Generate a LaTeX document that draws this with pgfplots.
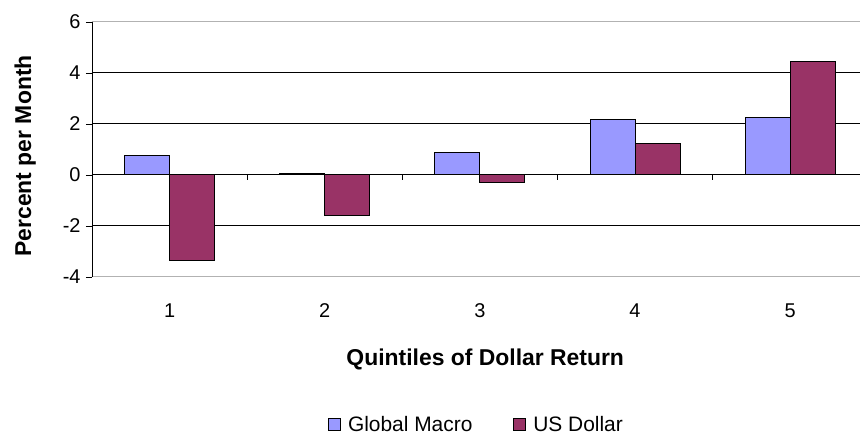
\documentclass[border=0pt]{standalone}
\usepackage{pgfplots}
\pgfplotsset{compat=1.18}
\usepackage{fontspec}
\setmainfont{Liberation Sans}
\definecolor{gmac}{HTML}{9999FF}
\definecolor{usd}{HTML}{993366}
\begin{document}
\begin{tikzpicture}
\begin{axis}[
  name=ax,
  scale only axis,
  width=768bp, height=255bp,
  xmin=0.5, xmax=5.45,
  ymin=-4, ymax=6,
  ybar=0pt,
  bar width=0.29,
  xtick={1,2,3,4,5},
  xticklabels={1,2,3,4,5},
  ytick={-4,-2,0,2,4,6},
  x tick style={draw=none},
  y tick style={black, line width=0.8pt},
  tick align=outside,
  major tick length=6bp,
  axis line style={draw=gray!60, line width=1pt},
  ymajorgrids,
  grid style={black, line width=1pt},
  /pgf/number format/assume math mode=true,
  ticklabel style={font=\fontsize{20}{22}\selectfont},
  xticklabel style={yshift=-17bp},
  yticklabel style={xshift=-2bp},
  xlabel={Quintiles of Dollar Return},
  ylabel={Percent per Month},
  every axis x label/.style={at={(axis description cs:0.512,-0.322)},anchor=center,font=\fontsize{23}{25}\selectfont\bfseries},
  every axis y label/.style={at={(axis description cs:-0.087,0.475)},anchor=center,rotate=90,font=\fontsize{23}{25}\selectfont\bfseries},
  legend style={at={(0.5,-0.58)}, anchor=center, draw=none, legend columns=2,
    inner sep=0pt, nodes={inner sep=1bp},
    font=\fontsize{21}{23}\selectfont,
    /tikz/every even column/.append style={column sep=40bp}},
  legend image code/.code={\draw[#1, draw=black, line width=0.8pt] (0bp,-6bp) rectangle (12bp,6bp); \path (18bp,0bp);},
  clip=false,
]
\addplot[fill=gmac, draw=black, line width=1pt] coordinates {(1,0.77) (2,0.05) (3,0.90) (4,2.18) (5,2.27)};
\addplot[fill=usd, draw=black, line width=1pt] coordinates {(1,-3.37) (2,-1.57) (3,-0.30) (4,1.24) (5,4.45)};
\legend{Global Macro, US Dollar}
\draw[gray!60, line width=1pt] (axis cs:0.5,6) -- (axis cs:5.45,6);
\draw[gray!60, line width=1pt] (axis cs:0.5,-4) -- (axis cs:5.45,-4);
\draw[black, line width=1pt] (axis cs:0.5,0) -- (axis cs:5.45,0);
\draw[black, line width=1pt] (axis cs:0.5,-4) -- (axis cs:0.5,6);
\pgfplotsinvokeforeach{1.5,2.5,3.5,4.5}{\draw[black, line width=1pt] (axis cs:#1,0) -- (axis cs:#1,-0.2);}
\end{axis}
\pgfresetboundingbox
\path[use as bounding box] ([shift={(-92bp,-161bp)}]ax.south west) rectangle ([shift={(0bp,22bp)}]ax.north east);
\end{tikzpicture}
\end{document}
